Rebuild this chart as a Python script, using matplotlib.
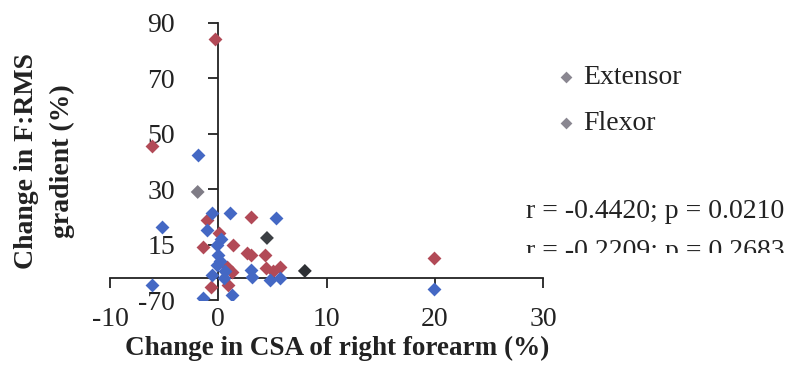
"""Change in F:RMS gradient vs change in CSA of right forearm."""

import matplotlib
matplotlib.use("Agg")
import matplotlib.pyplot as plt
from matplotlib.transforms import Bbox, TransformedBbox

plt.rcParams["font.family"] = ["Liberation Serif", "DejaVu Serif"]
plt.rcParams["axes.unicode_minus"] = False

# values
extensor_x = [-0.3, -6.1, -1.0, 3.0, 0.1, -1.4, 1.4, 2.7, 3.0, 4.3, 0.8, 1.3,
              4.4, 5.7, 5.1, -0.7, 0.9, 19.9]
extensor_y = [84.2, 45.6, 18.9, 20.0, 14.2, 9.1, 9.9, 7.0, 6.2, 6.2, 1.9, 0.1,
              1.6, 1.9, 0.5, -5.3, -4.6, 5.0]

flexor_x = [-1.85, -5.2, -6.1, -0.6, 1.1, 5.3, -1.0, -0.1, 0.0, 0.3, 0.2, -0.1,
            0.6, -0.6, 0.5, -1.4, 1.3, 3.0, 3.1, 4.8, 5.7, 19.9]
flexor_y = [42.3, 16.4, -4.6, 21.4, 21.4, 19.6, 15.3, 9.9, 6.2, 12.0, 4.0, 2.6,
            0.5, -1.0, -2.1, -9.3, -8.2, 0.8, -1.7, -2.8, -2.1, -6.0]

# points whose colour is washed out in the scan
unclear_x = [-1.9, 4.5, 8.0]
unclear_y = [29.0, 12.4, 0.5]
unclear_c = ["#7f7c86", "#3c3f44", "#2e3034"]

x_ticks = [-10, 0, 10, 20, 30]
y_ticks = [-10, 10, 30, 50, 70, 90]
y_tick_labels = ["-70", "15", "30", "50", "70", "90"]  # as printed in the scan

r_values = [-0.4420, -0.2209]
p_values = [0.0210, 0.2683]

ink = "#222222"
fs = 20

fig = plt.figure(figsize=(7.96, 3.87), dpi=100)
W, H = 796, 387
ax = fig.add_axes([110 / W, 1 - 300 / H, 433 / W, 277 / H])

ax.scatter(extensor_x, extensor_y, marker="D", s=50, color="#b24a57",
           linewidths=0, label="Extensor", zorder=3)
ax.scatter(flexor_x, flexor_y, marker="D", s=50, color="#4468c4",
           linewidths=0, label="Flexor", zorder=3)
ax.scatter(unclear_x, unclear_y, marker="D", s=50, c=unclear_c,
           linewidths=0, zorder=3)

ax.set_xlim(-10, 30)
ax.set_ylim(-10, 90)
for side in ("top", "right"):
    ax.spines[side].set_visible(False)
ax.spines["left"].set_position(("data", 0))
ax.spines["bottom"].set_position(("data", -2))
for side in ("left", "bottom"):
    ax.spines[side].set_color(ink)
    ax.spines[side].set_linewidth(1.3)

ax.set_xticks(x_ticks)
ax.tick_params(axis="x", direction="out", length=7, width=1.3, color=ink,
               labelbottom=False)
ax.set_yticks(y_ticks)
ax.set_yticklabels(y_tick_labels)
ax.tick_params(axis="y", direction="out", length=7, width=1.3, color=ink,
               pad=24, labelsize=fs, labelcolor=ink)

# x tick labels sit at the bottom of the plot area, not on the axis line
sec = ax.secondary_xaxis("bottom")
sec.spines["bottom"].set_visible(False)
sec.set_xticks(x_ticks)
sec.tick_params(length=0, pad=5, labelsize=fs, labelcolor=ink)
sec.set_xlabel("Change in CSA of right forearm (%)", fontsize=19.5,
               fontweight="bold", color=ink)
sec.xaxis.set_label_coords(0.525, -0.13, transform=ax.transAxes)

ax.set_ylabel("Change in F:RMS\ngradient (%)", fontsize=fs, fontweight="bold",
              color=ink, linespacing=1.6)
ax.yaxis.set_label_coords(-0.08, 0.5)

leg = ax.legend(loc="upper left", bbox_to_anchor=(558 / W, 1 - 65 / H),
                bbox_transform=fig.transFigure, frameon=False, fontsize=fs,
                handlelength=0.6, handletextpad=0.3, labelspacing=0.72,
                borderpad=0, borderaxespad=0, labelcolor=ink)
for h in leg.legend_handles:
    h.set_color("#8a8791")
    h.set_sizes([36])

t1 = fig.text(526 / W, 1 - 218 / H,
              f"r = {r_values[0]:.4f}; p = {p_values[0]:.4f}",
              fontsize=fs, color=ink, va="baseline")
t2 = fig.text(526 / W, 1 - 258 / H,
              f"r = {r_values[1]:.4f}; p = {p_values[1]:.4f}",
              fontsize=fs, color=ink, va="baseline")
# second line is cut off in the original scan
t2.set_clip_box(TransformedBbox(Bbox([[0, 1 - 253 / H], [1, 1]]),
                                fig.transFigure))
t2.set_clip_on(True)

fig.savefig("out.png", dpi=100)
plt.close(fig)
